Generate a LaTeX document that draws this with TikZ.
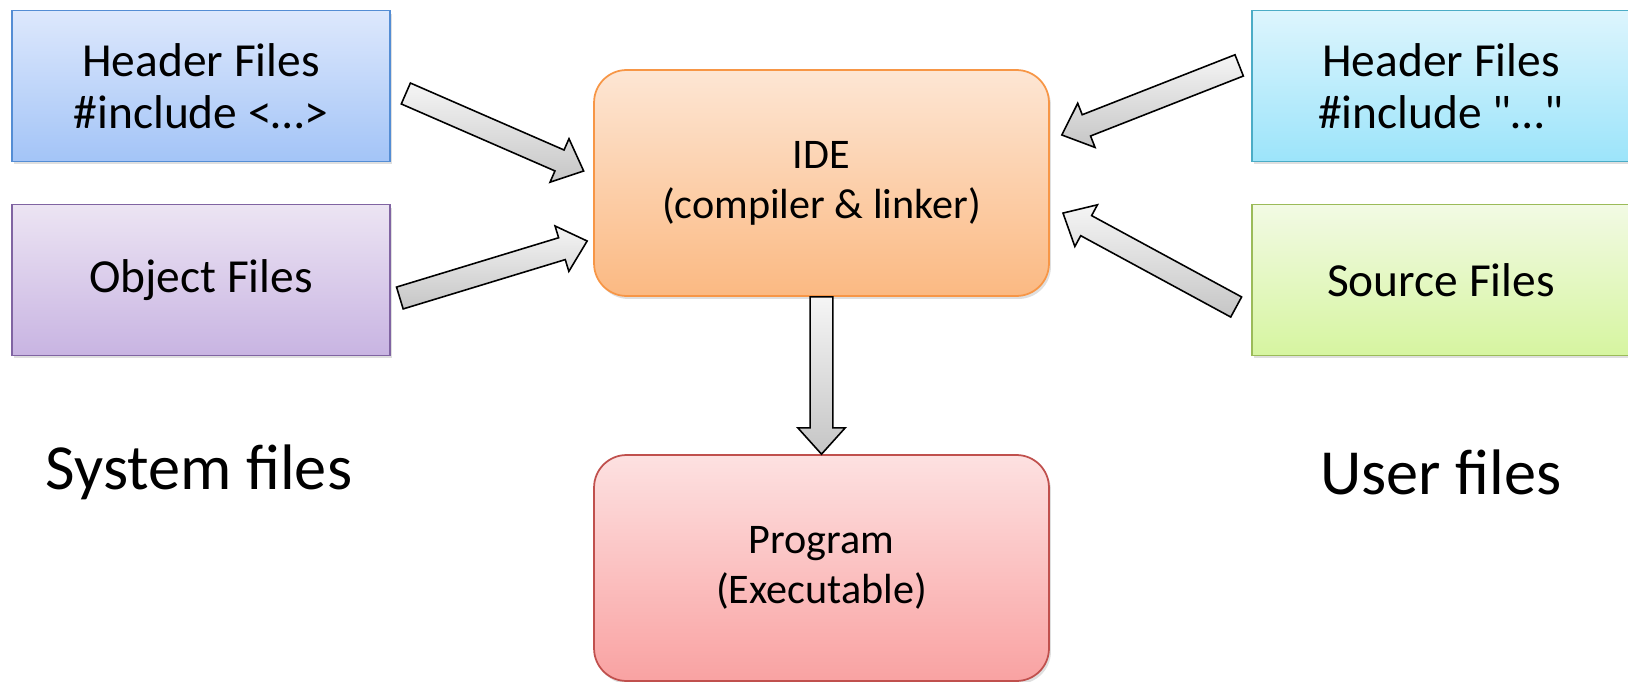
\documentclass[tikz,border=0pt]{standalone}
\usepackage{fontspec}
\setmainfont{Carlito}[Ligatures=TeXOff]
\usetikzlibrary{calc, shadows}

\definecolor{sysT}{RGB}{221,232,252}
\definecolor{sysB}{RGB}{163,196,247}
\definecolor{sysL}{RGB}{84,141,212}
\definecolor{objT}{RGB}{236,228,243}
\definecolor{objB}{RGB}{200,180,226}
\definecolor{objL}{RGB}{128,100,162}
\definecolor{ideT}{RGB}{253,230,212}
\definecolor{ideB}{RGB}{251,185,130}
\definecolor{ideL}{RGB}{247,150,70}
\definecolor{prgT}{RGB}{253,225,225}
\definecolor{prgB}{RGB}{249,162,162}
\definecolor{prgL}{RGB}{192,80,77}
\definecolor{usrT}{RGB}{221,245,253}
\definecolor{usrB}{RGB}{156,228,250}
\definecolor{usrL}{RGB}{75,172,198}
\definecolor{srcT}{RGB}{242,250,228}
\definecolor{srcB}{RGB}{214,245,160}
\definecolor{srcL}{RGB}{155,187,89}

% fat block arrow from #1 to #2
\newcommand{\blockarrow}[2]{%
  \path[arrowbody] let \p1=(#1), \p2=(#2),
    \n1={atan2(\y2-\y1,\x2-\x1)}, \n2={veclen(\x2-\x1,\y2-\y1)} in
    [shift={(\p1)}, rotate=\n1]
    (0pt,-6.5pt) -- ({\n2*1pt-15pt},-6.5pt) -- ({\n2*1pt-15pt},-13.5pt)
    -- ({\n2*1pt},0pt) -- ({\n2*1pt-15pt},13.5pt) -- ({\n2*1pt-15pt},6.5pt)
    -- (0pt,6.5pt) -- cycle;}

\begin{document}
\begin{tikzpicture}[
    x=0.02cm, y=-0.02cm,
    filebox/.style={rectangle, line width=1pt, minimum width=7.56cm,
                minimum height=3.02cm, align=center,
                font=\fontsize{27}{29.5}\selectfont,
                drop shadow={opacity=0.25, shadow xshift=0.04cm, shadow yshift=-0.06cm}},
    toolbox/.style={rectangle, rounded corners=0.65cm, line width=1pt,
                minimum width=9.1cm, minimum height=4.52cm, align=center,
                font=\fontsize{24}{28.4}\selectfont,
                drop shadow={opacity=0.25, shadow xshift=0.04cm, shadow yshift=-0.06cm}},
    sidelabel/.style={font=\fontsize{36.6}{44}\selectfont},
    arrowbody/.style={draw=black, line width=0.9pt, top color=gray!8, bottom color=gray!45}
]
\useasboundingbox (0,0) rectangle (1628,682);

% System side
\node[filebox, draw=sysL, top color=sysT, bottom color=sysB] (hsys) at (201,86)
    {Header Files\\\#include <\ldots>};
\node[filebox, draw=objL, top color=objT, bottom color=objB] (obj) at (201,280)
    {Object Files};
\node[sidelabel] (syslbl) at (199,472) {System files};

% IDE and result
\node[toolbox, draw=ideL, top color=ideT, bottom color=ideB] (ide) at (821.5,183)
    {IDE\\(compiler \& linker)};
\node[toolbox, draw=prgL, top color=prgT, bottom color=prgB] (prog) at (821.5,568)
    {Program\\(Executable)};

% User side
\node[filebox, draw=usrL, top color=usrT, bottom color=usrB] (husr) at (1441,86)
    {Header Files\\\#include "\ldots"};
\node[filebox, draw=srcL, top color=srcT, bottom color=srcB] (src) at (1441,280)
    {Source Files};
\node[sidelabel] (usrlbl) at (1441,472) {User files};

% Arrow ends
\coordinate (a1s) at ($(hsys.east)+(15,7.5)$);
\coordinate (a1e) at ($(ide.west)+(-9.5,-12)$);
\coordinate (a2s) at ($(obj.east)+(9,18)$);
\coordinate (a2e) at ($(ide.west)+(-6,58)$);
\coordinate (a3s) at ($(husr.west)+(-12,-20.6)$);
\coordinate (a3e) at ($(ide.east)+(12,-48)$);
\coordinate (a4s) at ($(src.west)+(-15,27)$);
\coordinate (a4e) at ($(ide.east)+(13,30)$);

% Arrows
\blockarrow{a1s}{a1e}
\blockarrow{a2s}{a2e}
\blockarrow{a3s}{a3e}
\blockarrow{a4s}{a4e}
\blockarrow{ide.south}{prog.north}

\end{tikzpicture}
\end{document}
